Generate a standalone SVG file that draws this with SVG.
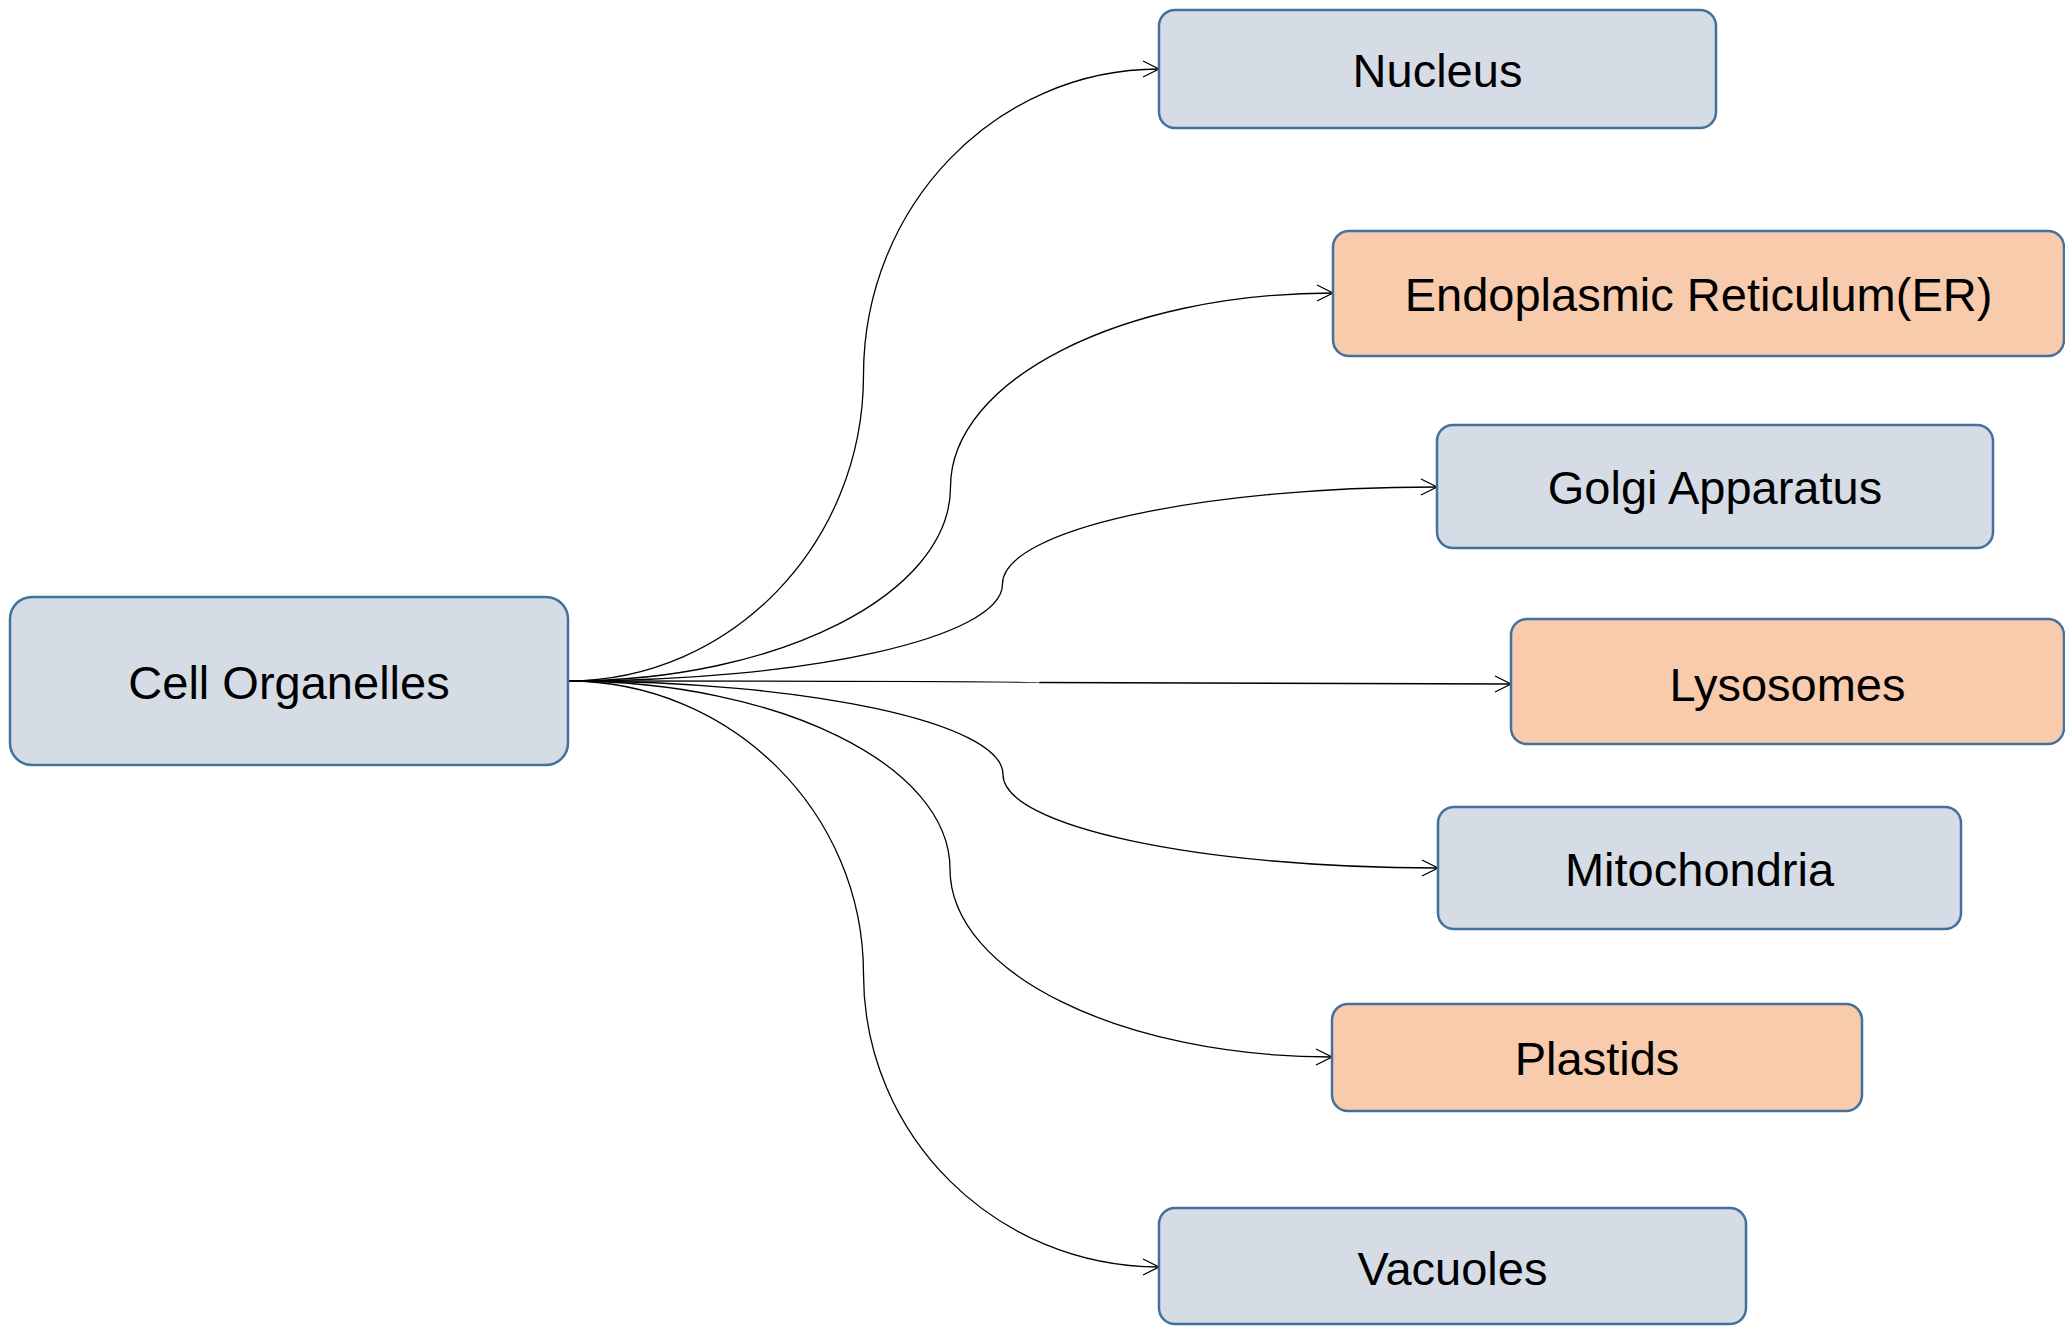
<svg xmlns="http://www.w3.org/2000/svg" width="2065" height="1326" viewBox="0 0 2065 1326">
<style>
.node rect{stroke:#41719C;stroke-width:2.5}
.blue rect{fill:#D6DCE5}
.orange rect{fill:#F8CBAD}
.node text{font-family:"Liberation Sans",Arial,sans-serif;font-size:47px;fill:#000;text-anchor:middle}
#connectors path{fill:none;stroke:#000;stroke-width:1.3;marker-end:url(#arrow)}
</style>
<defs>
<marker id="arrow" markerUnits="userSpaceOnUse" markerWidth="20" markerHeight="20" refX="16" refY="8" orient="auto" overflow="visible">
<path d="M0,0 L16,8 L0,16" fill="none" stroke="#000" stroke-width="1.3"/>
</marker>
</defs>
<rect width="2065" height="1326" fill="#fff"/>
<g id="connectors">
<path d="M568,681 C731.1,681 863.5,543.9 863.5,375 C863.5,206.1 995.9,69 1159,69"/>
<path d="M568,681 C779.1,681 950.5,594.1 950.5,487 C950.5,379.9 1121.9,293 1333,293"/>
<path d="M568,681 C807.8,681 1002.5,637.5 1002.5,584 C1002.5,530.5 1197.2,487 1437,487"/>
<path d="M568,681 C828.3,681 1039.5,681.7 1039.5,682.5 C1039.5,683.3 1250.7,684 1511,684"/>
<path d="M568,681 C808.1,681 1003,722.9 1003,774.5 C1003,826.1 1197.9,868 1438,868"/>
<path d="M568,681 C778.9,681 950,765.2 950,869 C950,972.8 1121.1,1057 1332,1057"/>
<path d="M568,681 C731.1,681 863.5,812.3 863.5,974 C863.5,1135.7 995.9,1267 1159,1267"/>
</g>
<g id="cell-organelles" class="node blue">
<rect x="10" y="597" width="558" height="168" rx="22"/>
<text x="289" y="699">Cell Organelles</text>
</g>
<g id="nucleus" class="node blue">
<rect x="1159" y="10" width="557" height="118" rx="16"/>
<text x="1437.5" y="87">Nucleus</text>
</g>
<g id="er" class="node orange">
<rect x="1333" y="231" width="731" height="125" rx="16"/>
<text x="1698.5" y="311">Endoplasmic Reticulum(ER)</text>
</g>
<g id="golgi" class="node blue">
<rect x="1437" y="425" width="556" height="123" rx="16"/>
<text x="1715" y="504">Golgi Apparatus</text>
</g>
<g id="lysosomes" class="node orange">
<rect x="1511" y="619" width="553" height="125" rx="16"/>
<text x="1787.5" y="701">Lysosomes</text>
</g>
<g id="mitochondria" class="node blue">
<rect x="1438" y="807" width="523" height="122" rx="16"/>
<text x="1699.5" y="886">Mitochondria</text>
</g>
<g id="plastids" class="node orange">
<rect x="1332" y="1004" width="530" height="107" rx="16"/>
<text x="1597" y="1075">Plastids</text>
</g>
<g id="vacuoles" class="node blue">
<rect x="1159" y="1208" width="587" height="116" rx="16"/>
<text x="1452.5" y="1285">Vacuoles</text>
</g>
</svg>
